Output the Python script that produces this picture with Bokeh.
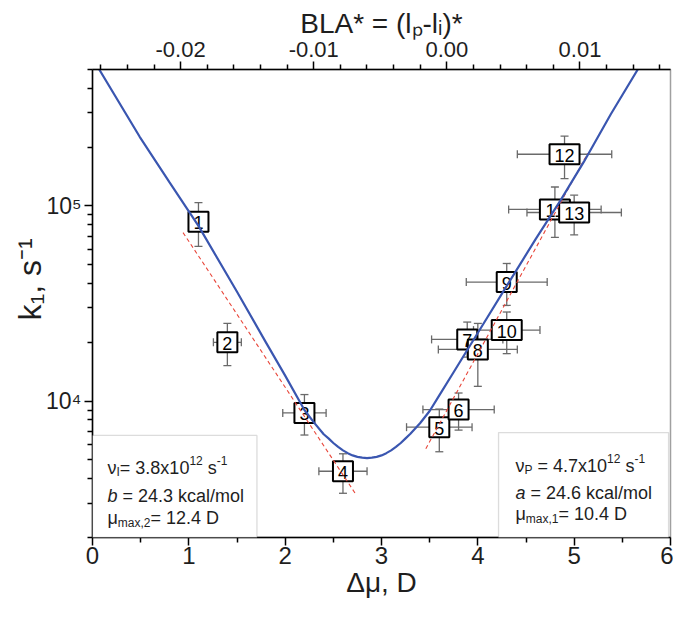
import math
from bokeh.plotting import figure
from bokeh.models import (ColumnDataSource, Range1d, LinearAxis, FixedTicker, Whisker,
                          TeeHead, Label, CDSView, IndexFilter, BoxAnnotation, NumeralTickFormatter)
from bokeh.core.properties import value
from bokeh.embed import file_html
from bokeh.resources import INLINE

# ---------------- data ----------------
point_labels = ["1", "2", "3", "4", "5", "6", "7", "8", "9", "10", "11", "12", "13"]
dmu = [1.10, 1.40, 2.20, 2.60, 3.60, 3.80, 3.89, 4.00, 4.30, 4.30, 4.80, 4.90, 5.00]
k1 = [8.3e4, 2.0e4, 8.7e3, 4.37e3, 7.35e3, 9.05e3, 2.07e4, 1.84e4, 4.07e4, 2.31e4, 9.6e4, 1.84e5, 9.25e4]
dmu_err = [0.07, 0.145, 0.225, 0.25, 0.34, 0.37, 0.37, 0.41, 0.42, 0.345, 0.48, 0.49, 0.49]
k1_low = [6.2e4, 1.52e4, 6.7e3, 3.37e3, 5.5e3, 7.1e3, 1.68e4, 1.19e4, 3.09e4, 1.75e4, 6.9e4, 1.38e5, 7.1e4]
k1_high = [1.04e5, 2.5e4, 1.08e4, 5.37e3, 9.1e3, 1.1e4, 2.54e4, 2.5e4, 5.07e4, 2.86e4, 1.25e5, 2.28e5, 1.135e5]

model_dmu = [0.07, 0.49, 0.80, 1.10, 1.50, 1.80, 2.00, 2.20, 2.30, 2.40, 2.45, 2.50, 2.55, 2.60,
             2.65, 2.70, 2.75, 2.80, 2.85, 2.90, 2.95, 3.00, 3.05, 3.10, 3.15, 3.20, 3.25, 3.30,
             3.40, 3.50, 3.60, 3.75, 3.90, 4.10, 4.30, 4.60, 4.86, 5.10, 5.38, 5.66]
model_k1 = [5.0e5, 2.26e5, 1.32e5, 7.9e4, 3.63e4, 2.0e4, 1.35e4, 9.0e3, 7.76e3, 6.76e3, 6.44e3,
            6.1e3, 5.82e3, 5.59e3, 5.41e3, 5.27e3, 5.18e3, 5.13e3, 5.1e3, 5.13e3, 5.18e3, 5.27e3,
            5.41e3, 5.59e3, 5.82e3, 6.1e3, 6.44e3, 6.8e3, 7.7e3, 8.9e3, 1.07e4, 1.41e4, 1.86e4,
            2.69e4, 3.89e4, 6.76e4, 1.07e5, 1.68e5, 2.95e5, 5.0e5]

fit_left_dmu = [0.94, 2.73]
fit_left_k1 = [7.3e4, 3.35e3]
fit_right_dmu = [3.46, 5.14]
fit_right_k1 = [5.7e3, 1.86e5]

x_ticks = [0, 1, 2, 3, 4, 5, 6]
x_minor = [0.5, 1.5, 2.5, 3.5, 4.5, 5.5]
y_ticks = [10000, 100000]
y_tick_labels = ["10⁴", "10⁵"]
y_minor = [2e3, 3e3, 4e3, 5e3, 6e3, 7e3, 8e3, 9e3, 2e4, 3e4, 4e4, 5e4, 6e4, 7e4, 8e4, 9e4,
           2e5, 3e5, 4e5, 5e5]
bla_ticks = [-0.02, -0.01, 0.0, 0.01]
bla_minor = [-0.026, -0.024, -0.022, -0.018, -0.016, -0.014, -0.012, -0.008, -0.006, -0.004,
             -0.002, 0.002, 0.004, 0.006, 0.008, 0.012, 0.014, 0.016]
bla_limits = [-0.02662, 0.0168]
dmu_limits = [0, 6]
k1_limits = [2000, 5e5]

x_title = "Δμ, D"
y_title = "\u2003\u2002k₁, s⁻¹"
top_title = "BLA* = (lₚ-lᵢ)*"

# ---------------- figure ----------------
FONT = "Liberation Sans"
INK = "#1e1e1e"

p = figure(frame_width=578, frame_height=468, min_border_left=92, min_border_right=3,
           min_border_top=69, min_border_bottom=75,
           x_range=Range1d(*dmu_limits), y_range=Range1d(*k1_limits), y_axis_type="log",
           output_backend="svg", toolbar_location=None)
p.xgrid.visible = False
p.ygrid.visible = False
p.outline_line_color = "#a0a0a0"
p.outline_line_width = 1.5
p.background_fill_color = "white"
p.border_fill_color = "white"

def style_axis(ax, size="22px", title_size="28px"):
    ax.axis_line_color = "black"
    ax.axis_line_width = 1.5
    ax.major_tick_line_color = "black"
    ax.major_tick_line_width = 1.5
    ax.minor_tick_line_color = "black"
    ax.minor_tick_line_width = 1.5
    ax.major_tick_out = 8
    ax.major_tick_in = 0
    ax.minor_tick_out = 5
    ax.minor_tick_in = 0
    ax.major_label_text_font = FONT
    ax.major_label_text_font_size = size
    ax.major_label_text_color = INK
    ax.axis_label_text_font = FONT
    ax.axis_label_text_font_size = title_size
    ax.axis_label_text_font_style = "normal"
    ax.axis_label_text_color = INK

xb = p.below[0]
xb.ticker = FixedTicker(ticks=x_ticks, minor_ticks=x_minor)
style_axis(xb, size="24px")
xb.major_label_standoff = 1
xb.axis_label = x_title
xb.axis_label_standoff = 0

yl = p.left[0]
yl.ticker = FixedTicker(ticks=y_ticks, minor_ticks=y_minor)
yl.major_label_overrides = {t: s for t, s in zip(y_ticks, y_tick_labels)}
style_axis(yl, size="23px", title_size="32px")
yl.major_label_standoff = 3
yl.axis_label = y_title
yl.axis_label_standoff = -5

p.extra_x_ranges = {"bla": Range1d(*bla_limits)}
xt = LinearAxis(x_range_name="bla", ticker=FixedTicker(ticks=bla_ticks, minor_ticks=bla_minor),
                formatter=NumeralTickFormatter(format="0.00"))
style_axis(xt)
xt.major_label_standoff = 5
xt.axis_label = top_title
xt.axis_label_standoff = 0
p.add_layout(xt, "above")

# ---------------- error bars ----------------
src = ColumnDataSource(dict(
    x=dmu, y=k1, lab=point_labels,
    xlo=[a - e for a, e in zip(dmu, dmu_err)], xhi=[a + e for a, e in zip(dmu, dmu_err)],
    ylo=k1_low, yhi=k1_high,
    bw=[20 if len(s) == 1 else 30 for s in point_labels],
))
ERR = "#6a6a6a"
p.add_layout(Whisker(source=src, base="x", lower="ylo", upper="yhi", dimension="height",
                     line_color=ERR, line_width=1.3,
                     lower_head=TeeHead(size=8, line_color=ERR, line_width=1.3),
                     upper_head=TeeHead(size=8, line_color=ERR, line_width=1.3)))
p.add_layout(Whisker(source=src, base="y", lower="xlo", upper="xhi", dimension="width",
                     line_color=ERR, line_width=1.3,
                     lower_head=TeeHead(size=8, line_color=ERR, line_width=1.3),
                     upper_head=TeeHead(size=8, line_color=ERR, line_width=1.3)))

# ---------------- numbered boxes ----------------
last = len(point_labels) - 1
views = [CDSView(filter=IndexFilter(list(range(last)))), CDSView(filter=IndexFilter([last]))]
for v in views:
    p.rect(x="x", y="y", width="bw", height=20, width_units="screen", height_units="screen",
           source=src, view=v, fill_color="white", line_color="black", line_width=2)
    p.text(x="x", y="y", text="lab", source=src, view=v, text_align="center",
           text_baseline="middle", text_font=value(FONT), text_font_size="18px",
           text_color="black", y_offset=1)

# ---------------- fits ----------------
p.line(fit_left_dmu, fit_left_k1, line_color="#e8463a", line_width=1.1, line_dash="4 3")
p.line(fit_right_dmu, fit_right_k1, line_color="#e8463a", line_width=1.1, line_dash="4 3")
p.line(model_dmu, model_k1, line_color="#3a56b0", line_width=2.2)

# ---------------- parameter boxes ----------------
p.add_layout(BoxAnnotation(left=0, right=1.707, bottom=2000, top=6670, fill_color="white",
                           fill_alpha=1, line_color="#8a8a8a", line_width=1.3))
p.add_layout(BoxAnnotation(left=4.215, right=5.98, bottom=2000, top=6900, fill_color="white",
                           fill_alpha=1, line_color="#8a8a8a", line_width=1.3))

W = {'0': 556, '1': 556, '2': 556, '3': 556, '4': 556, '5': 556, '6': 556, '7': 556, '8': 556,
     '9': 556, '.': 278, ',': 278, ' ': 278, '=': 584, '-': 333, 'x': 500, 's': 500, 'k': 500,
     'c': 500, 'a': 556, 'l': 222, '/': 278, 'm': 833, 'o': 556, 'b': 556, 'D': 722, 'I': 278,
     'P': 667, 'ν': 500, 'μ': 576}

def tw(s, size):
    return sum(W.get(c, 556) for c in s) / 1000.0 * size

def rich(x0, y0, pieces):
    pos = 0.0
    for text, size, shift, style in pieces:
        body = text.lstrip(" ")
        pos += tw(text[:len(text) - len(body)], size)
        p.add_layout(Label(x=x0 + pos, y=y0 + shift, x_units="screen", y_units="screen",
                           text=body, text_font=FONT, text_font_size=f"{size}px",
                           text_font_style=style, text_baseline="alphabetic",
                           text_align="left", text_color=INK))
        pos += tw(body, size)

N = "normal"
rich(15, 70, [("ν", 18, 0, N), ("I", 12, -4, N), ("= 3.8x10", 18, 0, N), ("12", 12, 7, N),
              (" s", 18, 0, N), ("-1", 12, 7, N)])
rich(15, 42, [("b", 18, 0, "italic"), (" = 24.3 kcal/mol", 18, 0, N)])
rich(15, 20, [("μ", 18, 0, N), ("max,2", 12, -5, N), ("= 12.4 D", 18, 0, N)])

rich(423, 72, [("ν", 18, 0, N), ("P", 12, -4, N), (" = 4.7x10", 18, 0, N), ("12", 12, 7, N),
               (" s", 18, 0, N), ("-1", 12, 7, N)])
rich(423, 45, [("a", 18, 0, "italic"), (" = 24.6 kcal/mol", 18, 0, N)])
rich(423, 24, [("μ", 18, 0, N), ("max,1", 12, -5, N), ("= 10.4 D", 18, 0, N)])

open("out.html", "w").write(file_html(p, INLINE))
